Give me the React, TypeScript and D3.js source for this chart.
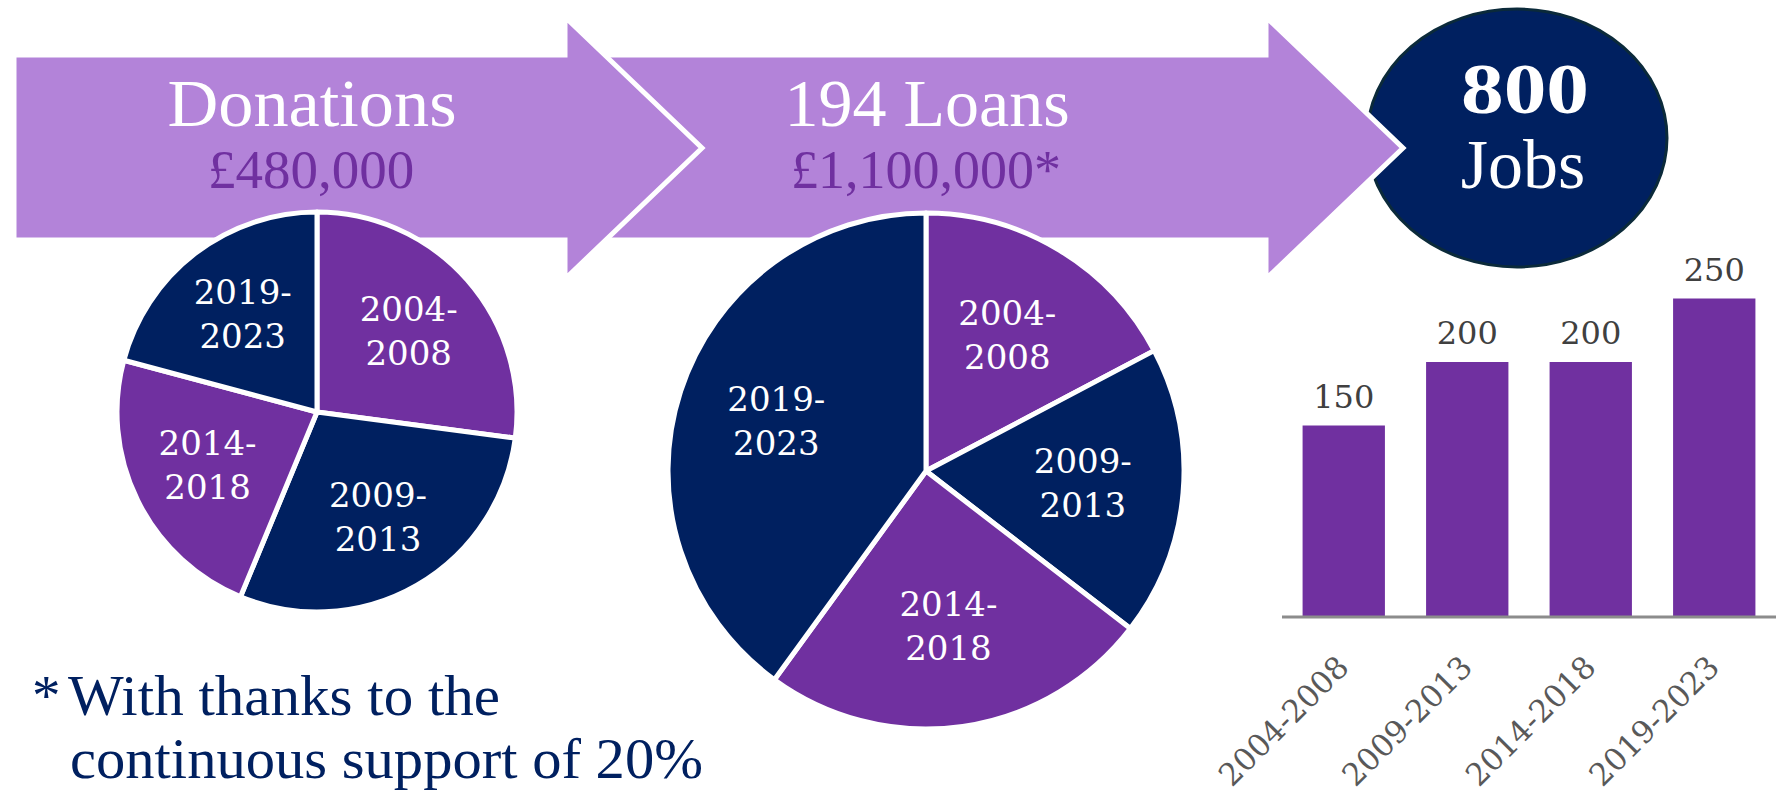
import React from "react";
import * as d3 from "d3";

// Periods shared by the two pies and the bar chart
const periods = ["2004-2008", "2009-2013", "2014-2018", "2019-2023"];
// Donations by period (£ thousands)
const donations = [130, 140, 110, 100];
// Loans by period (£ thousands)
const loans = [190, 200, 270, 440];
// Jobs created by period
const jobs = [150, 200, 200, 250];

const LIGHT = "#b383d9";
const PURPLE = "#7030a0";
const NAVY = "#002060";
const sliceColors = [PURPLE, NAVY, PURPLE, NAVY];

const TITLE_FONT = "'Liberation Serif', 'Times New Roman', serif";
const LABEL_FONT = "'DejaVu Serif', serif";

// arrow outline: body from x0 to headX, head goes to tip
const arrowPath = (x0: number, headX: number, tipX: number) => {
  const top = 55,
    bottom = 240,
    headTop = 17,
    headBottom = 279,
    mid = 148;
  return `M${x0},${top}L${headX},${top}L${headX},${headTop}L${tipX},${mid}L${headX},${headBottom}L${headX},${bottom}L${x0},${bottom}Z`;
};

const Pie = ({ cx, cy, r, values }: { cx: number; cy: number; r: number; values: number[] }) => {
  const arcs = d3.pie<number>().sort(null).value((d) => d)(values);
  const arc = d3.arc<d3.PieArcDatum<number>>().innerRadius(0).outerRadius(r);
  const labelArc = d3
    .arc<d3.PieArcDatum<number>>()
    .innerRadius(r * 0.61)
    .outerRadius(r * 0.61);
  return (
    <g transform={`translate(${cx},${cy})`}>
      {arcs.map((a, i) => (
        <path key={i} d={arc(a) || ""} fill={sliceColors[i]} stroke="#fff" strokeWidth={5} strokeLinejoin="round" />
      ))}
      {arcs.map((a, i) => {
        const [lx, ly] = labelArc.centroid(a);
        const [from, to] = periods[i].split("-");
        return (
          <text key={i} fill="#fff" fontFamily={LABEL_FONT} fontSize={34} textAnchor="middle">
            <tspan x={lx} y={ly - 11}>{from + "-"}</tspan>
            <tspan x={lx} y={ly + 33}>{to}</tspan>
          </text>
        );
      })}
    </g>
  );
};

const Bars = () => {
  const axisY = 616;
  const x = d3.scaleBand().domain(periods).range([1282, 1776]).paddingInner(1 / 3).paddingOuter(1 / 6);
  const y = d3.scaleLinear().domain([0, 300]).range([axisY, 235]);
  return (
    <g>
      {jobs.map((v, i) => (
        <rect key={i} x={x(periods[i])} y={y(v)} width={x.bandwidth()} height={axisY - y(v)} fill={PURPLE} />
      ))}
      {jobs.map((v, i) => (
        <text
          key={i}
          x={(x(periods[i]) || 0) + x.bandwidth() / 2}
          y={y(v) - 18}
          textAnchor="middle"
          fontFamily={LABEL_FONT}
          fontSize={32}
          fill="#404040"
        >
          {v}
        </text>
      ))}
      <line x1={1282} x2={1776} y1={axisY + 1} y2={axisY + 1} stroke="#8c8c8c" strokeWidth={3} />
      {periods.map((p, i) => {
        const px = (x(p) || 0) + x.bandwidth() / 2 + 7;
        const py = axisY + 53;
        return (
          <text
            key={i}
            transform={`translate(${px},${py}) rotate(-45)`}
            textAnchor="end"
            fontFamily={LABEL_FONT}
            fontSize={31}
            fill="#595959"
          >
            {p}
          </text>
        );
      })}
    </g>
  );
};

export default function App() {
  return (
    <div style={{ position: "absolute", left: 0, top: 0 }}>
      <svg width={1779} height={800} style={{ display: "block", background: "#fff" }}>
        {/* jobs bubble */}
        <ellipse cx={1517} cy={138} rx={150} ry={129} fill={NAVY} stroke="#0b2a3a" strokeWidth={3} />
        {/* arrows, second one behind the first */}
        <path d={arrowPath(580, 1266, 1403)} fill={LIGHT} stroke="#fff" strokeWidth={5} />
        <path d={arrowPath(14, 565, 702)} fill={LIGHT} stroke="#fff" strokeWidth={5} />

        <text x={312} y={126} textAnchor="middle" fontFamily={TITLE_FONT} fontSize={68} fill="#fff" textLength={289} lengthAdjust="spacingAndGlyphs">
          Donations
        </text>
        <text x={311} y={188} textAnchor="middle" fontFamily={TITLE_FONT} fontSize={55} fill={PURPLE}>
          £480,000
        </text>
        <text x={927} y={126} textAnchor="middle" fontFamily={TITLE_FONT} fontSize={68} fill="#fff">
          194 Loans
        </text>
        <text x={926} y={188} textAnchor="middle" fontFamily={TITLE_FONT} fontSize={54} fill={PURPLE}>
          £1,100,000*
        </text>
        <text x={1525} y={113} textAnchor="middle" fontFamily={TITLE_FONT} fontSize={72} fontWeight="bold" fill="#fff" textLength={128} lengthAdjust="spacingAndGlyphs">
          800
        </text>
        <text x={1523} y={188} textAnchor="middle" fontFamily={TITLE_FONT} fontSize={70} fill="#fff">
          Jobs
        </text>

        <Pie cx={317} cy={412} r={200} values={donations} />
        <Pie cx={926} cy={471} r={258} values={loans} />

        <Bars />

        <text x={32} y={715} fontFamily={TITLE_FONT} fontSize={57} fill={NAVY}>
          *
        </text>
        <text x={68} y={715} fontFamily={TITLE_FONT} fontSize={57} fill={NAVY} textLength={432} lengthAdjust="spacingAndGlyphs">
          With thanks to the
        </text>
        <text x={70} y={778} fontFamily={TITLE_FONT} fontSize={57} fill={NAVY} textLength={633} lengthAdjust="spacingAndGlyphs">
          continuous support of 20%
        </text>
      </svg>
    </div>
  );
}
